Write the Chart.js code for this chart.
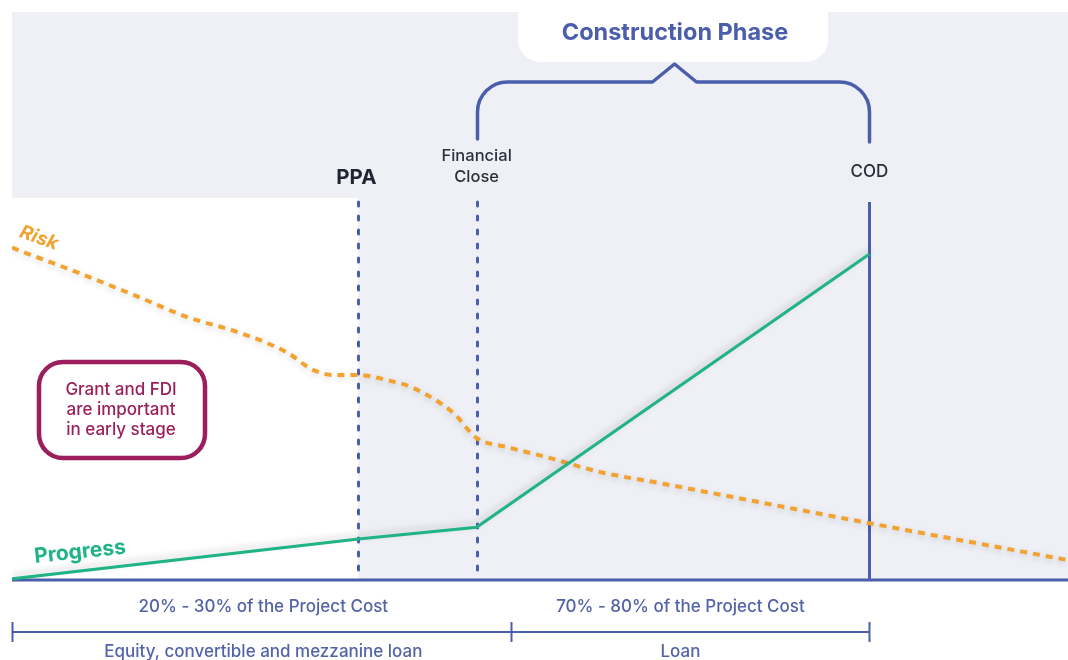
<!DOCTYPE html>
<html>
<head>
<meta charset="utf-8">
<script src="https://cdn.jsdelivr.net/npm/chart.js@4.4.1/dist/chart.umd.min.js"></script>
<style>
  html, body { margin: 0; padding: 0; background: #ffffff; }
  #wrap { width: 1068px; height: 660px; }
</style>
</head>
<body>
<div id="wrap"><canvas id="chart" width="1068" height="660"></canvas></div>
<script>
// x runs 0..100 along the project timeline, y 0..100 is the level of each curve
const progressX = [0, 32.8, 44.0, 81.2];
const progressY = [0.2, 7.2, 9.3, 57.4];

const riskX = [0, 6.4, 11.5, 16.6, 21.6, 26.0, 28.5, 30.4, 32.8, 35.5, 38.0, 41.8, 44.0, 46.9, 50.9, 55.7, 61.2, 81.2, 100];
const riskY = [58.5, 54.0, 50.2, 46.3, 43.5, 40.1, 37.0, 36.1, 36.1, 35.2, 33.8, 29.4, 25.0, 23.4, 21.5, 19.0, 17.1, 10.0, 3.5];

const milestoneLabels = ['PPA', 'Financial Close', 'COD'];
const milestoneX = [32.8, 44.0, 81.2];

const fundingBreaks = [0, 47.3, 81.2];
const fundingLabelX = [23.8, 63.3];
const fundingShare = ['20% - 30% of the Project Cost', '70% - 80% of the Project Cost'];
const fundingSource = ['Equity, convertible and mezzanine loan', 'Loan'];

const phaseLabel = 'Construction Phase';
const noteLines = ['Grant and FDI', 'are important', 'in early stage'];

const BLUE = '#4a5eab';
const GREEN = '#1fb386';
const ORANGE = '#f2a22e';
const GREY_BG = '#eff0f5';
const MAROON = '#9a1f5c';
const FONT = 'Inter, "Noto Sans", sans-serif';

function toPoints(xs, ys) {
    return xs.map((x, i) => ({ x: x, y: ys[i] }));
}

function roundRect(ctx, x, y, w, h, r) {
    ctx.beginPath();
    ctx.moveTo(x + r, y);
    ctx.arcTo(x + w, y, x + w, y + h, r);
    ctx.arcTo(x + w, y + h, x, y + h, r);
    ctx.arcTo(x, y + h, x, y, r);
    ctx.arcTo(x, y, x + w, y, r);
    ctx.closePath();
}

// background panels, baseline and milestone markers go under the curves
const backdrop = {
    id: 'backdrop',
    beforeDatasetsDraw(chart) {
        const { ctx, chartArea: a, scales: { x } } = chart;
        const ppa = x.getPixelForValue(milestoneX[0]);
        const stepY = a.top + 186;

        ctx.save();
        ctx.fillStyle = GREY_BG;
        ctx.beginPath();
        ctx.moveTo(a.left, a.top);
        ctx.lineTo(a.right, a.top);
        ctx.lineTo(a.right, a.bottom);
        ctx.lineTo(ppa, a.bottom);
        ctx.lineTo(ppa, stepY);
        ctx.lineTo(a.left, stepY);
        ctx.closePath();
        ctx.fill();

        // milestone lines
        const lineTop = a.top + 190;
        milestoneX.forEach((mx, i) => {
            const px = Math.round(x.getPixelForValue(mx)) + 0.5;
            ctx.beginPath();
            ctx.strokeStyle = BLUE;
            if (i < 2) {
                ctx.lineWidth = 3;
                ctx.lineCap = 'round';
                ctx.setLineDash([4, 10]);
            } else {
                ctx.lineWidth = 3;
                ctx.lineCap = 'butt';
                ctx.setLineDash([]);
            }
            ctx.moveTo(px, lineTop);
            ctx.lineTo(px, a.bottom);
            ctx.stroke();
        });
        ctx.setLineDash([]);

        // milestone labels
        ctx.textAlign = 'center';
        ctx.textBaseline = 'middle';
        const ppaX = x.getPixelForValue(milestoneX[0]);
        ctx.fillStyle = '#1f2533';
        ctx.font = '700 20.5px ' + FONT;
        ctx.fillText(milestoneLabels[0], ppaX - 2, 178);
        const fcX = x.getPixelForValue(milestoneX[1]);
        ctx.fillStyle = '#2b303b';
        ctx.font = '500 16.5px ' + FONT;
        const fcParts = milestoneLabels[1].split(' ');
        ctx.fillText(fcParts[0], fcX, 156);
        ctx.fillText(fcParts[1], fcX, 177);
        const codX = x.getPixelForValue(milestoneX[2]);
        ctx.font = '500 17px ' + FONT;
        ctx.fillText(milestoneLabels[2], codX, 172);

        // baseline
        ctx.beginPath();
        ctx.strokeStyle = BLUE;
        ctx.lineWidth = 3;
        ctx.moveTo(a.left, a.bottom);
        ctx.lineTo(a.right, a.bottom);
        ctx.stroke();

        // construction phase label box
        ctx.fillStyle = '#ffffff';
        roundRect(ctx, 518, -30, 310, 92, 22);
        ctx.fill();
        ctx.fillStyle = BLUE;
        ctx.font = '700 23.5px ' + FONT;
        ctx.fillText(phaseLabel, 675, 33);

        // brace over the construction phase
        const bl = Math.round(fcX) + 0.5;
        const br = Math.round(codX) + 0.5;
        const mid = (bl + br) / 2 + 1;
        const top = 82, r = 30, bot = 139;
        ctx.beginPath();
        ctx.strokeStyle = BLUE;
        ctx.lineWidth = 3.5;
        ctx.lineCap = 'round';
        ctx.lineJoin = 'round';
        ctx.moveTo(bl, bot);
        ctx.arcTo(bl, top, bl + r, top, r);
        ctx.lineTo(mid - 22, top);
        ctx.lineTo(mid, top - 18);
        ctx.lineTo(mid + 22, top);
        ctx.arcTo(br, top, br, top + r, r);
        ctx.lineTo(br, bot + 3);
        ctx.stroke();

        // note box
        ctx.strokeStyle = MAROON;
        ctx.lineWidth = 4.5;
        roundRect(ctx, 39, 362, 166, 96, 24);
        ctx.stroke();
        ctx.fillStyle = MAROON;
        ctx.font = '500 17px ' + FONT;
        noteLines.forEach((t, i) => ctx.fillText(t, 121, 390 + i * 20));

        // funding brackets below the axis
        const by = 632;
        ctx.strokeStyle = BLUE;
        ctx.lineWidth = 2;
        ctx.lineCap = 'butt';
        ctx.beginPath();
        ctx.moveTo(x.getPixelForValue(fundingBreaks[0]), by);
        ctx.lineTo(x.getPixelForValue(fundingBreaks[2]), by);
        fundingBreaks.forEach(b => {
            const px = Math.round(x.getPixelForValue(b)) + 0.5;
            ctx.moveTo(px, by - 10);
            ctx.lineTo(px, by + 10);
        });
        ctx.stroke();
        ctx.fillStyle = '#5363a7';
        ctx.font = '500 17px ' + FONT;
        fundingLabelX.forEach((lx, i) => {
            const px = x.getPixelForValue(lx);
            ctx.fillText(fundingShare[i], px, 607);
            ctx.fillText(fundingSource[i], px, 652);
        });
        ctx.restore();
    },
    beforeDatasetDraw(chart, args) {
        const ctx = chart.ctx;
        ctx.save();
        ctx.shadowColor = 'rgba(60, 60, 70, 0.22)';
        ctx.shadowBlur = 6;
        ctx.shadowOffsetY = args.index === 0 ? -3 : 2;
    },
    afterDatasetDraw(chart) {
        chart.ctx.restore();
    },
    afterDatasetsDraw(chart) {
        const { ctx } = chart;
        ctx.save();
        ctx.textAlign = 'center';
        ctx.textBaseline = 'middle';

        ctx.translate(80, 552);
        ctx.rotate(-6 * Math.PI / 180);
        ctx.fillStyle = GREEN;
        ctx.font = '700 21px ' + FONT;
        ctx.fillText('Progress', 0, 0);
        ctx.restore();

        ctx.save();
        ctx.textAlign = 'center';
        ctx.textBaseline = 'middle';
        ctx.translate(39, 238);
        ctx.rotate(20 * Math.PI / 180);
        ctx.fillStyle = ORANGE;
        ctx.font = 'italic 700 19px ' + FONT;
        ctx.fillText('Risk', 0, 0);
        ctx.restore();
    }
};

new Chart(document.getElementById('chart'), {
    type: 'line',
    data: {
        datasets: [
            {
                label: 'Progress',
                data: toPoints(progressX, progressY),
                borderColor: GREEN,
                borderWidth: 3,
                pointRadius: 0,
                tension: 0
            },
            {
                label: 'Risk',
                data: toPoints(riskX, riskY),
                borderColor: ORANGE,
                borderWidth: 4,
                borderDash: [7, 6],
                pointRadius: 0,
                cubicInterpolationMode: 'monotone'
            }
        ]
    },
    options: {
        responsive: false,
        animation: false,
        layout: { padding: { left: 12, right: 0, top: 12, bottom: 80 } },
        scales: {
            x: { type: 'linear', min: 0, max: 100, display: false },
            y: { type: 'linear', min: 0, max: 100, display: false }
        },
        plugins: {
            legend: { display: false },
            tooltip: { enabled: false }
        }
    },
    plugins: [backdrop]
});
</script>
</body>
</html>
